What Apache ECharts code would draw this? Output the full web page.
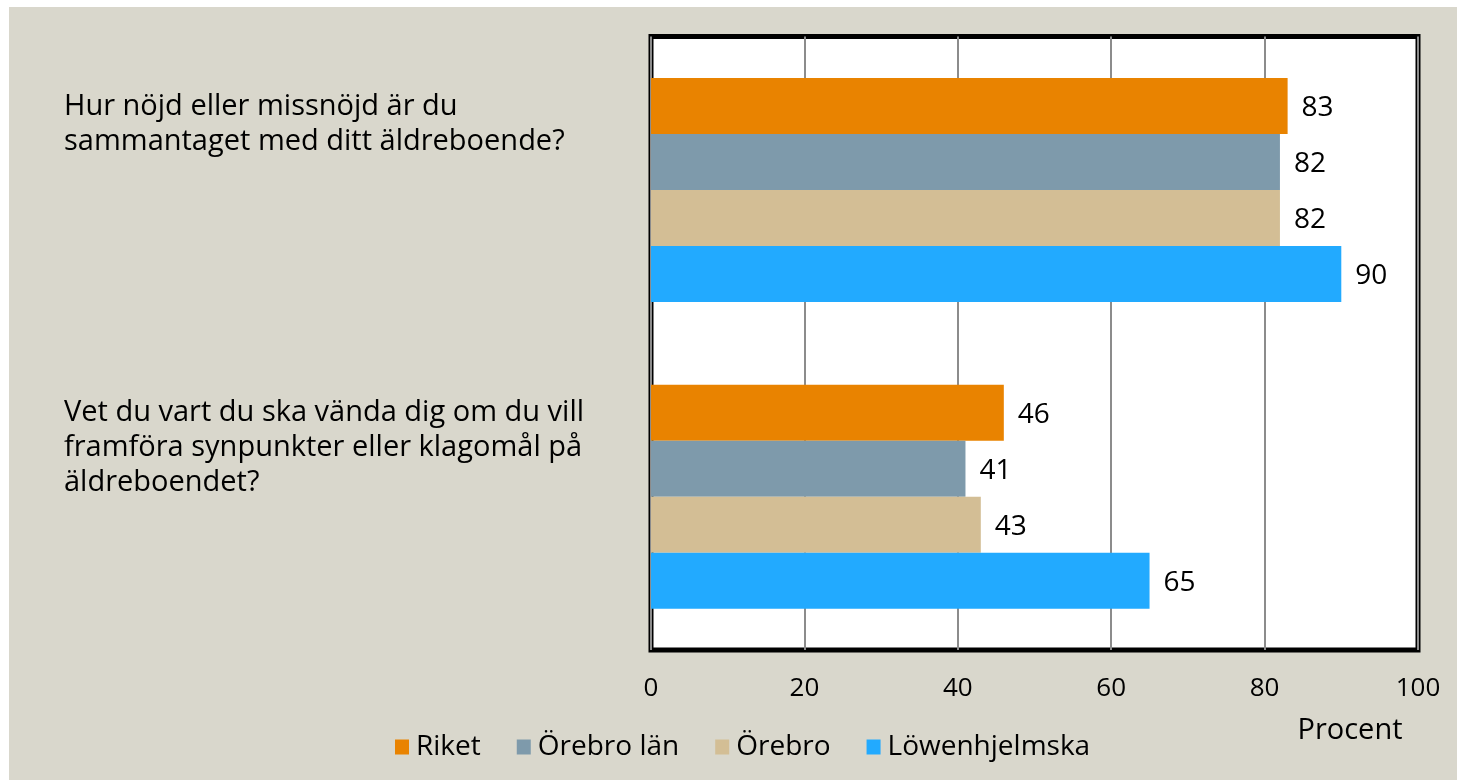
<!DOCTYPE html>
<html>
<head>
<meta charset="utf-8">
<script src="https://cdn.jsdelivr.net/npm/echarts@6/dist/echarts.min.js"></script>
</head>
<body style="margin:0;background:#ffffff;">
<div id="main" style="position:absolute;left:9px;top:7px;width:1448px;height:773px;"></div>

<script type="text/javascript">
// frågor (kategorier)
var questions = [
    'Hur nöjd eller missnöjd är du\nsammantaget med ditt äldreboende?',
    'Vet du vart du ska vända dig om du vill\nframföra synpunkter eller klagomål på\näldreboendet?'
];
var seriesNames = ['Riket', 'Örebro län', 'Örebro', 'Löwenhjelmska'];
var riket = [83, 46];
var orebroLan = [82, 41];
var orebro = [82, 43];
var lowenhjelmska = [90, 65];
var xTicks = [0, 20, 40, 60, 80, 100];
var colors = ['#e98300', '#7e9aab', '#d3be95', '#22aaff'];

var seriesData = [riket, orebroLan, orebro, lowenhjelmska];
var fontName = 'Open Sans';

var series = [];
for (var i = 0; i < seriesNames.length; i++) {
    series.push({
        name: seriesNames[i],
        type: 'bar',
        data: seriesData[i],
        barWidth: 56,
        barGap: '0%',
        itemStyle: { color: colors[i] },
        label: {
            show: true,
            position: 'right',
            distance: 14,
            offset: [0, 2],
            color: '#000',
            fontSize: 28,
            fontFamily: fontName
        }
    });
}

var option = {
    backgroundColor: '#d9d7cc',
    animation: false,
    color: colors,
    grid: {
        show: true,
        left: 642,
        top: 29.5,
        width: 767,
        height: 613.5,
        backgroundColor: '#ffffff',
        borderColor: '#000000',
        borderWidth: 5
    },
    legend: {
        data: seriesNames,
        left: 381,
        top: 721,
        icon: 'rect',
        itemWidth: 14,
        itemHeight: 15,
        itemGap: 36,
        textStyle: { color: '#000', fontSize: 28, fontFamily: fontName, padding: [0, 0, 0, 2] }
    },
    xAxis: {
        type: 'value',
        min: 0,
        max: 100,
        interval: 20,
        name: 'Procent',
        nameLocation: 'end',
        nameGap: -68,
        nameTextStyle: {
            color: '#000',
            fontSize: 29,
            fontFamily: fontName,
            align: 'center',
            verticalAlign: 'top',
            padding: [66, 0, 0, 0]
        },
        axisLine: { show: false },
        axisTick: { show: false },
        axisLabel: {
            color: '#000',
            fontSize: 26,
            fontFamily: fontName,
            margin: 26,
            formatter: function (v) { return xTicks.indexOf(v) >= 0 ? String(v) : ''; }
        },
        splitLine: { show: true, lineStyle: { color: '#8c8c8c', width: 2 } }
    },
    yAxis: {
        type: 'category',
        data: questions,
        inverse: true,
        axisLine: { show: false },
        axisTick: { show: false },
        axisLabel: {
            align: 'left',
            margin: 587,
            // texten ska stå ovanför mitten: lägg en tom rad under
            formatter: function (v) {
                var lines = v.split('\n');
                var out = lines.map(function (l) { return '{t|' + l + '}'; });
                out.push('{s' + lines.length + '| }');
                return out.join('\n');
            },
            rich: {
                t: { color: '#000', fontSize: 29, fontFamily: fontName, lineHeight: 35 },
                s2: { fontSize: 10, lineHeight: 132 },
                s3: { fontSize: 10, lineHeight: 97 }
            }
        }
    },
    series: series
};

var myChart = echarts.init(document.getElementById('main'));
myChart.setOption(option);
</script>
</body>
</html>
